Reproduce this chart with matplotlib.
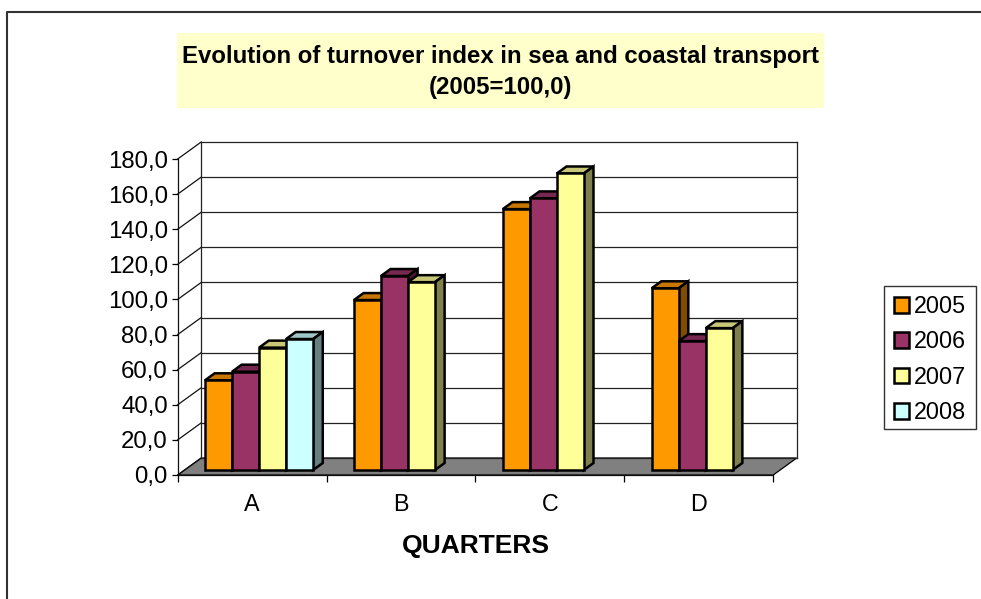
import matplotlib
matplotlib.use('Agg')
import matplotlib.pyplot as plt
from matplotlib.patches import Polygon, Patch, Rectangle
from matplotlib.colors import to_rgb

plt.rcParams['font.family'] = ['Liberation Sans', 'DejaVu Sans']

quarters = ['A', 'B', 'C', 'D']
years = ['2005', '2006', '2007', '2008']
values_2005 = [51.1, 96.8, 148.6, 103.5]
values_2006 = [56.0, 110.5, 154.7, 73.4]
values_2007 = [69.7, 107.0, 168.9, 80.8]
values_2008 = [74.6, None, None, None]
series = [values_2005, values_2006, values_2007, values_2008]
colors = ['#FF9900', '#993366', '#FFFF99', '#CCFFFF']
y_ticks = list(range(0, 181, 20))

W, H = 981, 599
DEPTH_X = 23.5 / 148.9   # wall depth in x units
DEPTH_Y = 17 / 1.7556    # wall depth in y units
BAR_NEAR = 5 / 17
BAR_FAR = 12 / 17
GAP = 0.137
BAR_W = (1 - 2 * GAP) / 4
EDGE = '#000000'


def shade(color, f):
    return tuple(c * f for c in to_rgb(color))


fig = plt.figure(figsize=(W / 100, H / 100), dpi=100)
ax = fig.add_axes([177.7 / W, (H - 475) / H, 595.5 / W, 316 / H])
ax.set_xlim(0, 4)
ax.set_ylim(0, 180)
ax.patch.set_alpha(0)
for name in ['top', 'right']:
    ax.spines[name].set_visible(False)
for name in ['left', 'bottom']:
    ax.spines[name].set_linewidth(0.9)
    ax.spines[name].set_color('#111111')

# outer frame, only left and top are visible
fig.add_artist(plt.Line2D([6.5 / W, 6.5 / W, 1], [0, 1 - 11.5 / H, 1 - 11.5 / H],
                          color='#333333', lw=1.5))

# title box
fig.add_artist(Rectangle((177 / W, 1 - 108 / H), 647 / W, 75 / H,
                         facecolor='#FFFFCC', edgecolor='none',
                         transform=fig.transFigure))
fig.text(501 / W, 1 - 72 / H,
         'Evolution of turnover index in sea and coastal transport\n(2005=100,0)',
         ha='center', va='center', fontsize=17.3, fontweight='bold',
         linespacing=1.42)

# floor
ax.add_patch(Polygon([(0, 0), (4, 0), (4 + DEPTH_X, DEPTH_Y), (DEPTH_X, DEPTH_Y)],
                     closed=True, facecolor='#808080', edgecolor=EDGE, lw=0.9,
                     clip_on=False, zorder=1))

# walls and gridlines
for v in y_ticks:
    ax.plot([0, DEPTH_X], [v, v + DEPTH_Y], color='#111111', lw=0.9, clip_on=False, zorder=1)
    ax.plot([DEPTH_X, 4 + DEPTH_X], [v + DEPTH_Y, v + DEPTH_Y], color='#222222', lw=0.9,
            clip_on=False, zorder=1)
ax.plot([DEPTH_X, DEPTH_X], [DEPTH_Y, 180 + DEPTH_Y], color='#222222', lw=0.9, clip_on=False, zorder=1)
ax.plot([4 + DEPTH_X, 4 + DEPTH_X], [DEPTH_Y, 180 + DEPTH_Y], color='#222222', lw=0.9, clip_on=False, zorder=1)

# bars
z = 3
for q in range(len(quarters)):
    for s, vals in enumerate(series):
        v = vals[q]
        if v is None:
            continue
        col = colors[s]
        x0 = q + GAP + s * BAR_W + BAR_NEAR * DEPTH_X
        x1 = x0 + BAR_W
        y0 = BAR_NEAR * DEPTH_Y
        y1 = y0 + v
        dx = (BAR_FAR - BAR_NEAR) * DEPTH_X
        dy = (BAR_FAR - BAR_NEAR) * DEPTH_Y
        kw = dict(closed=True, edgecolor=EDGE, lw=1.8, joinstyle='miter', clip_on=False)
        ax.add_patch(Polygon([(x0, y1), (x1, y1), (x1 + dx, y1 + dy), (x0 + dx, y1 + dy)],
                             facecolor=shade(col, 0.78), zorder=z, **kw))
        ax.add_patch(Polygon([(x1, y0), (x1 + dx, y0 + dy), (x1 + dx, y1 + dy), (x1, y1)],
                             facecolor=shade(col, 0.5), zorder=z, **kw))
        ax.add_patch(Polygon([(x0, y0), (x1, y0), (x1, y1), (x0, y1)],
                             facecolor=col, zorder=z, **kw))
        z += 1

# axes
ax.set_yticks(y_ticks)
ax.set_yticklabels([('%.1f' % v).replace('.', ',') for v in y_ticks])
ax.set_xticks(range(5))
ax.set_xticklabels([])
ax.set_xticks([i + 0.5 for i in range(4)], minor=True)
ax.set_xticklabels(quarters, minor=True)
ax.tick_params(axis='y', labelsize=17.3, length=4.5, width=0.9, pad=2.5)
ax.tick_params(axis='x', which='major', length=5, width=0.9)
ax.tick_params(axis='x', which='minor', length=0, labelsize=16.8, pad=13.3)
ax.set_xlabel('QUARTERS', fontsize=19, fontweight='bold', labelpad=12.5)

# legend, frame drawn apart so its height matches
fig.add_artist(Rectangle((884.3 / W, 1 - 429 / H), 91.7 / W, 143.3 / H,
                         facecolor='white', edgecolor='#333333', lw=1,
                         transform=fig.transFigure))
handles = [Patch(facecolor=c, edgecolor='black', lw=1.8) for c in colors]
fig.legend(handles, years, loc='upper left',
           bbox_to_anchor=(884.3 / W, 1 - 285.7 / H), bbox_transform=fig.transFigure,
           fontsize=16.8, frameon=False, handlelength=0.65, handleheight=0.65,
           handletextpad=0.2, labelspacing=0.53, borderpad=0.4, borderaxespad=0)

fig.savefig('out.png', dpi=100)
